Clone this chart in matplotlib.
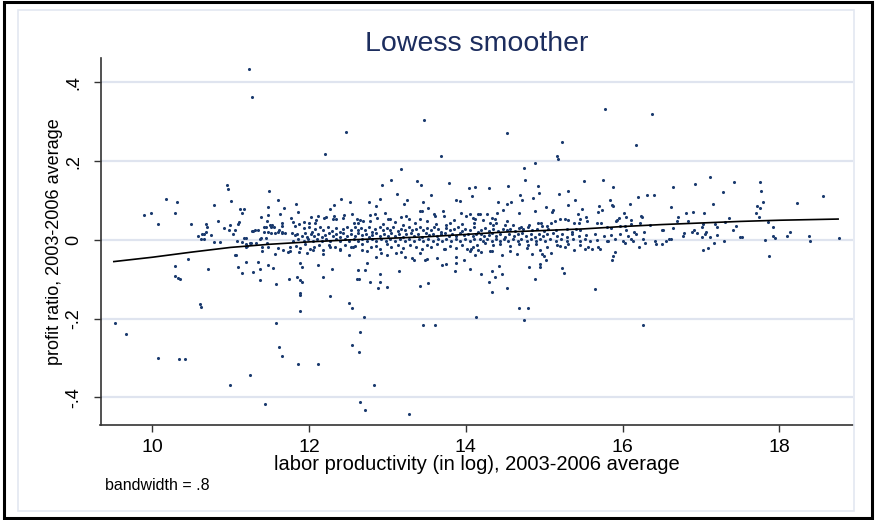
import matplotlib
matplotlib.use('Agg')
import matplotlib.pyplot as plt
from matplotlib.patches import Rectangle

# 数据：散点 (labor productivity, profit ratio)
# 极端值
pts_outliers = [
    (11.24, .433), (11.27, .363), (12.47, .274), (12.20, .217),
    (13.47, .304), (13.68, .212), (13.18, .181), (14.52, .272), (14.74, .183),
    (14.88, .196), (15.23, .249), (15.17, .212), (15.18, .206), (15.77, .332),
    (16.37, .320), (16.17, .241),
    (9.52, -.212), (9.66, -.240), (10.07, -.299), (10.34, -.302), (10.42, -.302),
    (10.99, -.369), (11.25, -.343), (11.44, -.417), (11.58, -.212), (11.62, -.272),
    (11.65, -.295), (11.86, -.315), (12.11, -.316), (11.89, -.181), (12.70, -.196),
    (12.65, -.234), (12.55, -.267), (12.64, -.284), (12.65, -.411), (12.72, -.432),
    (12.83, -.369), (10.61, -.162), (10.62, -.171), (12.51, -.161), (12.55, -.173),
    (14.13, -.197), (13.46, -.217), (13.61, -.217), (14.68, -.172), (14.80, -.173),
    (14.74, -.204), (16.26, -.217), (13.28, -.441),
]

# x < 11.75
pts_left = [
    (10.96, .139), (10.97, .130), (10.18, .103), (10.31, .097), (9.90, .063), (9.98, .069),
    (10.07, .040), (10.29, .069), (10.79, .089), (11.00, .099), (10.49, .040), (11.12, .078),
    (11.17, .078), (11.15, .069), (10.84, .047), (11.11, .045), (11.10, .040), (10.99, .037),
    (10.91, .031), (10.98, .026), (11.05, .025), (11.03, .014), (10.69, .041), (10.70, .033),
    (10.68, .021), (10.63, .016), (10.59, .011), (10.66, .014), (10.66, .003), (10.62, .003),
    (10.75, .012), (10.79, -.006), (10.87, -.005), (11.08, -.002), (11.15, -.006), (11.17, .005),
    (11.20, .004), (11.19, -.019), (11.19, -.010), (11.25, -.007), (11.27, .023), (11.29, .023),
    (11.31, .025), (11.35, .025), (11.42, .034), (11.43, .019), (11.48, .021), (11.51, .032),
    (11.50, .038), (11.53, .038), (11.55, .032), (11.52, .018), (11.57, .018), (11.60, .019),
    (11.62, .026), (11.65, .044), (11.65, .021), (11.66, .018), (11.70, .017), (11.65, .036),
    (11.68, .082), (11.63, .065), (11.60, .101), (11.49, .124), (11.48, .083), (11.48, .063),
    (11.39, .058), (11.46, .047), (11.45, .034), (11.39, .006), (11.37, .002), (11.45, .005),
    (11.47, -.008), (11.32, -.008), (11.26, -.007), (11.21, -.015), (11.40, -.019), (11.40, -.029),
    (11.48, -.018), (11.60, -.021), (11.67, -.025), (11.73, -.030), (11.56, -.036), (11.54, -.071),
    (11.48, -.063), (11.38, -.073), (11.28, -.082), (11.35, -.057), (11.20, -.057), (11.09, -.069),
    (11.15, -.085), (11.37, -.101), (11.58, -.112), (11.74, -.100), (11.07, -.038), (11.05, -.039),
    (10.71, -.075), (10.46, -.049), (10.29, -.067), (10.29, -.091), (10.33, -.096), (10.35, -.100),
]

# 11.75 - 14.2
pts_mid = [
    (12.93, .140), (13.04, .151), (13.38, .150), (13.43, .139), (13.79, .144), (14.04, .132),
    (14.12, .134), (14.08, .112), (13.12, .116), (13.25, .102), (13.21, .092), (13.56, .114),
    (13.46, .096), (13.88, .102), (13.93, .099), (11.83, .090), (11.86, .072), (12.32, .088),
    (12.27, .079), (12.41, .103), (12.52, .096), (12.76, .096), (12.85, .086), (12.91, .105),
    (13.41, .074), (13.44, .074), (13.52, .080), (13.60, .065), (13.61, .061), (13.71, .073),
    (13.72, .061), (13.94, .068), (14.00, .062), (14.06, .065), (14.09, .055), (14.12, .052),
    (14.16, .065), (12.97, .068), (13.01, .054), (13.03, .054), (13.18, .059), (13.24, .061),
    (13.28, .054), (12.78, .063), (12.78, .049), (12.84, .066), (12.87, .055), (12.61, .054),
    (12.65, .051), (12.69, .047), (12.57, .044), (12.63, .042), (12.55, .066), (12.45, .064),
    (12.43, .056), (12.32, .061), (12.30, .054), (12.34, .054), (12.22, .059), (12.19, .055),
    (12.02, .059), (12.11, .060), (12.09, .051), (11.93, .046), (12.00, .042), (12.08, .042),
    (11.77, .055), (11.80, .045), (11.82, .036), (11.87, .041),
    (13.10, .045), (13.35, .042), (13.50, .047), (13.62, .040), (13.80, .044), (13.95, .040),
    (14.10, .043), (12.95, .040), (13.20, .038), (13.75, .037), (13.42, .052), (13.85, .050),
    # 密集带
    (11.93, .030), (12.00, .032), (12.04, .021), (12.08, .027), (12.14, .032), (12.18, .025),
    (12.24, .034), (12.29, .023), (12.34, .030), (12.39, .021), (12.44, .027), (12.48, .032),
    (12.54, .025), (12.59, .034), (12.63, .024), (12.66, .030), (12.71, .025), (12.77, .032),
    (12.80, .021), (12.84, .027), (12.90, .034), (12.95, .024), (12.99, .030), (13.03, .025),
    (13.07, .034), (13.13, .023), (13.17, .029), (13.22, .025), (13.27, .032), (13.32, .024),
    (13.36, .029), (13.41, .034), (13.46, .025), (13.50, .031), (13.55, .024), (13.59, .033),
    (13.65, .027), (13.69, .021), (13.75, .030), (13.80, .024), (13.85, .029), (13.90, .034),
    (13.95, .023), (13.99, .029), (14.05, .025), (14.10, .032), (14.15, .021),
    (11.78, .017), (11.82, .012), (11.85, .015), (11.91, .010), (11.95, .017), (11.98, .008),
    (12.02, .014), (12.06, .009), (12.12, .015), (12.16, .008), (12.21, .013), (12.26, .017),
    (12.30, .010), (12.35, .014), (12.39, .008), (12.44, .017), (12.49, .011), (12.53, .015),
    (12.59, .009), (12.63, .017), (12.67, .012), (12.73, .015), (12.76, .008), (12.81, .013),
    (12.86, .017), (12.90, .010), (12.96, .014), (13.01, .009), (13.05, .017), (13.10, .011),
    (13.15, .015), (13.20, .008), (13.24, .014), (13.30, .017), (13.34, .010), (13.39, .014),
    (13.44, .008), (13.49, .017), (13.53, .012), (13.58, .015), (13.63, .009), (13.68, .014),
    (13.73, .017), (13.78, .011), (13.83, .015), (13.88, .009), (13.92, .017), (13.98, .012),
    (14.03, .014), (14.09, .009), (14.13, .016),
    (11.79, -.002), (11.86, .002), (11.93, -.003), (11.99, .003), (12.05, -.002), (12.10, .002),
    (12.16, -.004), (12.22, .003), (12.27, -.002), (12.34, .002), (12.40, -.003), (12.46, .003),
    (12.51, -.002), (12.57, .002), (12.63, -.004), (12.68, .003), (12.74, -.002), (12.80, .002),
    (12.86, -.003), (12.92, .003), (12.98, -.002), (13.03, .002), (13.10, -.004), (13.16, .003),
    (13.22, -.002), (13.28, .002), (13.34, -.003), (13.40, .003), (13.46, -.002), (13.52, .002),
    (13.58, -.004), (13.64, .003), (13.70, -.002), (13.75, .002), (13.81, -.003), (13.87, .003),
    (13.93, -.002), (13.99, .002), (14.05, -.003), (14.11, .003),
    (11.76, -.017), (11.83, -.015), (11.88, -.020), (11.95, -.010), (12.01, -.022), (12.07, -.017),
    (12.13, -.012), (12.18, -.025), (12.26, -.014), (12.33, -.019), (12.39, -.024), (12.46, -.012),
    (12.54, -.017), (12.59, -.015), (12.67, -.010), (12.79, -.019), (12.85, -.015), (12.90, -.022),
    (12.99, -.010), (13.05, -.017), (13.13, -.014), (13.20, -.020), (13.29, -.012), (13.36, -.019),
    (13.44, -.024), (13.50, -.014), (13.56, -.017), (13.63, -.010), (13.72, -.022), (13.80, -.015),
    (13.88, -.020), (13.95, -.012), (14.01, -.024), (14.09, -.017), (14.14, -.014),
    (11.76, -.029), (11.87, -.030), (11.97, -.032), (12.05, -.025), (12.18, -.037), (12.27, -.019),
    (12.40, -.025), (12.51, -.038), (12.56, -.017), (12.67, -.025), (12.74, -.028), (12.86, -.044),
    (12.92, -.032), (12.99, -.038), (13.11, -.034), (13.18, -.030), (13.23, -.044), (13.31, -.046),
    (13.34, -.051), (13.41, -.032), (13.48, -.052), (13.50, -.049), (13.63, -.047), (13.74, -.024),
    (13.70, -.063), (13.75, -.062), (13.87, -.044), (13.87, -.059), (13.98, -.051), (14.05, -.027),
    (14.07, -.024), (14.12, -.038), (14.16, -.025), (11.88, -.059), (11.91, -.069), (12.12, -.064),
    (12.29, -.074), (12.62, -.076), (12.71, -.076), (12.74, -.058), (12.61, -.100), (12.64, -.100),
    (12.78, -.106), (12.90, -.087), (12.91, -.106), (12.88, -.123), (13.00, -.120), (13.15, -.080),
    (13.41, -.117), (13.52, -.110), (13.86, -.080), (14.05, -.074), (11.85, -.093), (11.88, -.103),
    (11.91, -.106), (12.18, -.093), (11.88, -.135), (11.89, -.140), (12.27, -.142),
]

# 14.2 - 16.6
pts_right = [
    (14.29, .131), (14.54, .137), (14.75, .151), (14.92, .137), (14.93, .118), (14.69, .114),
    (14.72, .102), (14.86, .106), (15.19, .117), (15.30, .125), (15.51, .150), (15.75, .151),
    (15.88, .134), (14.41, .096), (14.52, .092), (14.58, .096), (14.47, .076), (15.02, .083),
    (15.11, .076), (15.10, .072), (15.31, .089), (15.39, .101), (15.48, .078), (15.70, .085),
    (15.69, .072), (15.74, .076), (15.84, .101), (15.87, .089), (15.88, .085), (15.96, .055),
    (15.93, .051), (16.02, .068), (16.05, .058), (16.09, .091), (16.11, .051), (16.11, .040),
    (16.20, .110), (16.23, .061), (16.25, .057), (16.31, .114), (16.40, .114), (14.68, .068),
    (14.88, .074),
    (14.18, .065), (14.22, .051), (14.27, .065), (14.33, .055), (14.37, .052), (14.39, .042),
    (14.35, .038), (14.31, .044), (14.40, .068), (14.52, .047), (14.50, .038), (14.60, .038),
    (14.68, .030), (14.71, .032), (14.81, .037), (14.80, .032), (14.92, .042), (14.96, .042),
    (14.97, .036), (15.03, .036), (15.09, .042), (15.14, .047), (15.20, .053), (15.26, .052),
    (15.31, .051), (15.38, .044), (15.43, .065), (15.46, .052), (15.45, .042), (15.53, .059),
    (15.55, .047), (15.67, .042), (15.73, .042), (15.80, .034), (15.85, .030), (15.92, .047),
    (15.97, .036), (16.03, .036), (16.05, .025), (16.14, .021), (16.22, .042), (16.28, .021),
    (16.35, .038), (16.50, .024), (16.51, .024),
    (14.20, .025), (14.24, .030), (14.30, .023), (14.35, .027), (14.41, .022), (14.47, .029),
    (14.52, .024), (14.57, .027), (14.63, .022), (14.73, .027), (14.85, .025), (14.91, .029),
    (15.00, .023), (15.05, .027), (15.15, .024), (15.29, .027), (15.35, .021), (15.41, .029),
    (15.46, .024),
    (14.19, .015), (14.23, .010), (14.29, .013), (14.34, .017), (14.39, .010), (14.44, .014),
    (14.50, .008), (14.55, .015), (14.61, .010), (14.66, .014), (14.72, .017), (14.77, .010),
    (14.83, .014), (14.88, .008), (14.94, .015), (14.99, .010), (15.04, .014), (15.11, .017),
    (15.17, .010), (15.23, .014), (15.29, .008), (15.36, .015), (15.44, .010), (15.54, .013),
    (15.65, .015), (15.76, .010), (15.85, .013), (15.97, .014), (16.07, .010), (16.17, .015),
    (14.18, .003), (14.22, -.002), (14.27, .002), (14.33, -.003), (14.38, .003), (14.44, -.002),
    (14.49, .002), (14.54, -.003), (14.60, .003), (14.66, -.002), (14.71, .002), (14.78, -.003),
    (14.83, .003), (14.89, -.002), (14.95, .002), (15.01, -.003), (15.07, .003), (15.15, -.002),
    (15.22, .002), (15.29, -.003), (15.37, .003), (15.46, -.002), (15.52, .002), (15.58, -.003),
    (15.67, .000), (15.80, -.002), (15.90, .003), (16.01, -.003), (16.11, .002), (16.26, .003),
    (16.41, -.002), (16.59, .002),
    (14.24, -.008), (14.35, -.013), (14.44, -.010), (14.56, -.015), (14.68, -.010), (14.80, -.014),
    (14.90, -.010), (15.03, -.017), (15.16, -.012), (15.31, -.010), (15.46, -.014), (15.56, -.019),
    (15.82, -.004), (16.03, -.007), (16.13, -.004),
    (14.19, -.030), (14.31, -.027), (14.33, -.029), (14.46, -.039), (14.56, -.028), (14.65, -.036),
    (14.78, -.021), (14.84, -.037), (14.95, -.025), (14.97, -.036), (15.00, -.041), (15.02, -.051),
    (15.09, -.032), (15.20, -.015), (15.27, -.017), (15.38, -.026), (15.52, -.024), (15.61, -.022),
    (15.69, -.019), (15.71, -.023), (15.87, -.051), (15.88, -.042), (15.90, -.030), (16.21, -.017),
    (16.29, -.008), (16.43, -.010), (16.50, -.010), (16.56, -.003), (14.81, -.069), (14.95, -.061),
    (14.95, -.068), (15.23, -.072), (15.25, -.085), (14.34, -.080), (14.37, -.093), (14.43, -.066),
    (14.46, -.086), (14.20, -.087), (14.88, -.100), (14.30, -.108), (14.33, -.131), (14.52, -.123),
    (15.65, -.124),
]

# x > 16.6
pts_far = [
    (17.11, .160), (16.65, .134), (16.92, .141), (17.42, .146), (17.75, .148), (17.77, .124),
    (17.28, .122), (17.79, .097), (17.16, .091), (17.72, .085), (17.75, .080), (17.70, .069),
    (17.74, .058), (18.23, .095), (18.56, .111), (16.62, .083), (16.81, .069), (16.90, .071),
    (17.04, .068), (16.71, .058), (16.69, .049), (16.84, .047), (17.03, .041), (17.01, .034),
    (17.18, .041), (17.20, .034), (17.31, .046), (17.36, .055), (17.45, .036), (17.41, .025),
    (16.64, .030), (16.91, .025), (16.88, .020), (17.06, .021), (17.05, .015), (16.95, .017),
    (16.79, .017), (16.77, .010), (17.01, .007), (17.11, .008), (17.21, .013), (17.17, -.007),
    (17.29, -.004), (16.62, .002), (17.50, .007), (17.53, .007), (17.82, .000), (17.85, .045),
    (17.92, .032), (17.92, .010), (17.94, .005), (18.10, .011), (18.14, .020), (18.38, .010),
    (18.39, -.002), (18.76, .005), (17.03, -.025), (17.09, -.021), (17.87, -.040),
]

# lowess 曲线 (bandwidth = .8)
lowess_x = [9.51, 10.0, 10.5, 11.0, 11.5, 12.0, 12.5, 13.0, 13.5, 14.0,
            14.5, 15.0, 15.5, 16.0, 16.5, 17.0, 17.5, 18.0, 18.75]
lowess_y = [-0.055, -0.044, -0.031, -0.019, -0.011, -0.005, 0.000, 0.004, 0.008, 0.014,
            0.020, 0.024, 0.028, 0.034, 0.039, 0.043, 0.047, 0.050, 0.053]

yticks = [-0.4, -0.2, 0.0, 0.2, 0.4]
ytick_labels = ['-.4', '-.2', '0', '.2', '.4']
xticks = [10, 12, 14, 16, 18]

plt.rcParams['font.family'] = ['Liberation Sans', 'DejaVu Sans']

fig = plt.figure(figsize=(8.75, 5.2), dpi=100)
fig.patch.set_facecolor('white')
# 外框
fig.add_artist(Rectangle((0.004, 0.004), 0.992, 0.992, transform=fig.transFigure,
                         fill=False, edgecolor='black', linewidth=2.2))
fig.add_artist(Rectangle((0.02, 0.018), 0.956, 0.962, transform=fig.transFigure,
                         fill=False, edgecolor='#e3e8f1', linewidth=1.2))

ax = fig.add_axes([100.5 / 875, 95 / 520, 752.5 / 875, 367 / 520])

all_pts = pts_outliers + pts_left + pts_mid + pts_right + pts_far
xs = [p[0] for p in all_pts]
ys = [p[1] for p in all_pts]

for t in yticks:
    ax.axhline(t, color='#dfe4ef', linewidth=1.6, zorder=0)

ax.scatter(xs, ys, s=5, marker='o', color='#1a3a6e', linewidths=0, zorder=2)
ax.plot(lowess_x, lowess_y, color='black', linewidth=1.2, zorder=3)

ax.set_xlim(9.34, 18.94)
ax.set_ylim(-0.47, 0.462)
ax.set_xticks(xticks)
ax.set_yticks(yticks)
ax.set_yticklabels(ytick_labels, rotation=90, va='center')

for s in ['top', 'right']:
    ax.spines[s].set_visible(False)
for s in ['left', 'bottom']:
    ax.spines[s].set_color('#333333')
    ax.spines[s].set_linewidth(1.2)
ax.tick_params(axis='both', direction='out', length=5, width=1, color='#333333',
               labelcolor='black')
ax.tick_params(axis='x', pad=5, labelsize=14)
ax.tick_params(axis='y', pad=8, labelsize=13)

ax.set_title('Lowess smoother', fontsize=20.5, color='#1c2d5e', pad=5)
ax.set_xlabel('labor productivity (in log), 2003-2006 average', fontsize=14.5, labelpad=-1)
ax.set_ylabel('profit ratio, 2003-2006 average', fontsize=13, labelpad=2)
fig.text(105 / 875, 1 - 485 / 520, 'bandwidth = .8', fontsize=11.5, va='center', ha='left')

plt.savefig('out.png', dpi=100, facecolor='white')
